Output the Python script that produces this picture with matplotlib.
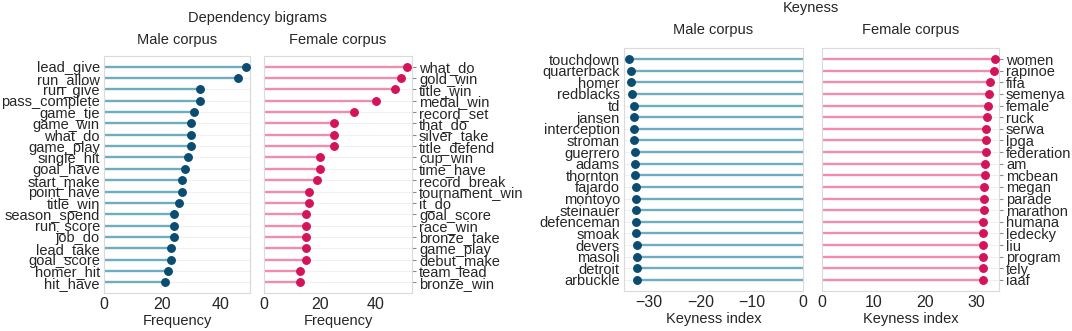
import numpy as np
import matplotlib.pyplot as plt

plt.rcParams['font.family'] = ['Liberation Sans', 'DejaVu Sans']
plt.rcParams['font.size'] = 10.5
plt.rcParams['text.color'] = '#262626'
plt.rcParams['axes.labelcolor'] = '#262626'
plt.rcParams['xtick.color'] = '#262626'
plt.rcParams['ytick.color'] = '#262626'
plt.rcParams['xtick.labelsize'] = 11.5

# Dependency bigrams (frequency)
male_bigrams = ['lead_give', 'run_allow', 'run_give', 'pass_complete', 'game_tie',
                'game_win', 'what_do', 'game_play', 'single_hit', 'goal_have',
                'start_make', 'point_have', 'title_win', 'season_spend', 'run_score',
                'job_do', 'lead_take', 'goal_score', 'homer_hit', 'hit_have']
male_freq = [49, 46, 33, 33, 31, 30, 30, 30, 29, 28, 27, 27, 26, 24, 24, 24, 23, 23, 22, 21]

female_bigrams = ['what_do', 'gold_win', 'title_win', 'medal_win', 'record_set',
                  'that_do', 'silver_take', 'title_defend', 'cup_win', 'time_have',
                  'record_break', 'tournament_win', 'it_do', 'goal_score', 'race_win',
                  'bronze_take', 'game_play', 'debut_make', 'team_lead', 'bronze_win']
female_freq = [51, 49, 47, 40, 32, 25, 25, 25, 20, 20, 19, 16, 16, 15, 15, 15, 15, 15, 13, 13]

# Keyness
male_words = ['touchdown', 'quarterback', 'homer', 'redblacks', 'td', 'jansen',
              'interception', 'stroman', 'guerrero', 'adams', 'thornton', 'fajardo',
              'montoyo', 'steinauer', 'defenceman', 'smoak', 'devers', 'masoli',
              'detroit', 'arbuckle']
male_key = [-33.9, -33.5, -33.5, -33.3, -32.9, -32.9, -32.9, -32.9, -32.7, -32.7,
            -32.7, -32.6, -32.6, -32.6, -32.5, -32.5, -32.4, -32.4, -32.4, -32.4]

female_words = ['women', 'rapinoe', 'fifa', 'semenya', 'female', 'ruck', 'serwa',
                'lpga', 'federation', 'am', 'mcbean', 'megan', 'parade', 'marathon',
                'humana', 'ledecky', 'liu', 'program', 'tely', 'iaaf']
female_key = [33.7, 33.5, 32.7, 32.5, 32.3, 32.1, 32.0, 32.0, 31.9, 31.7,
              31.7, 31.6, 31.5, 31.5, 31.4, 31.4, 31.3, 31.3, 31.3, 31.3]

male_line, male_dot = '#6eacc0', '#0b4d72'
female_line, female_dot = '#f08cb0', '#d4145a'


def lollipop(ax, labels, values, line_c, dot_c, right=False):
    y = np.arange(len(labels))
    ax.grid(axis='y', color='#f0f0f0', lw=0.8, zorder=0)
    ax.grid(axis='x', visible=False)
    ax.hlines(y, 0, values, color=line_c, lw=1.7, zorder=2)
    ax.plot(values, y, 'o', color=dot_c, ms=5.4, zorder=3)
    ax.set_yticks(y)
    ax.set_yticklabels(labels)
    ax.set_ylim(len(labels) - 0.05, -0.95)
    for s in ax.spines.values():
        s.set_color('#dadada')
    if right:
        ax.yaxis.tick_right()
        ax.tick_params(axis='y', length=3, color='#8c8c8c', pad=2)
    else:
        ax.tick_params(axis='y', length=0, pad=3)
    ax.tick_params(axis='x', length=0, pad=3)
    ax.set_facecolor('white')


fig = plt.figure(figsize=(10.72, 3.31), dpi=100)

ax1 = fig.add_axes([0.0970, 0.1148, 0.1362, 0.716])
ax2 = fig.add_axes([0.2463, 0.1148, 0.1380, 0.716])
ax3 = fig.add_axes([0.5821, 0.1208, 0.1670, 0.734])
ax4 = fig.add_axes([0.7668, 0.1208, 0.1651, 0.734])

lollipop(ax1, male_bigrams, male_freq, male_line, male_dot)
ax1.set_xlim(0, 50.3)
ax1.set_xticks([0, 20, 40])
ax1.set_xlabel('Frequency', labelpad=1)
ax1.set_title('Male corpus', fontsize=10.5, pad=9)

lollipop(ax2, female_bigrams, female_freq, female_line, female_dot, right=True)
ax2.set_xlim(0, 52.9)
ax2.set_xticks([0, 20, 40])
ax2.set_xlabel('Frequency', labelpad=1)
ax2.set_title('Female corpus', fontsize=10.5, pad=9)

lollipop(ax3, male_words, male_key, male_line, male_dot)
ax3.set_xlim(-34.9, 0)
ax3.set_xticks([-30, -20, -10, 0])
ax3.set_xlabel('Keyness index', labelpad=1)
ax3.set_title('Male corpus', fontsize=10.5, pad=10)

lollipop(ax4, female_words, female_key, female_line, female_dot, right=True)
ax4.set_xlim(0, 34.5)
ax4.set_xticks([0, 10, 20, 30])
ax4.set_xlabel('Keyness index', labelpad=1)
ax4.set_title('Female corpus', fontsize=10.5, pad=10)

fig.text(0.2405, 1 - 18 / 331, 'Dependency bigrams', ha='center', va='center')
fig.text(0.7566, 1 - 8 / 331, 'Keyness', ha='center', va='center')

fig.savefig('out.png', dpi=100)
